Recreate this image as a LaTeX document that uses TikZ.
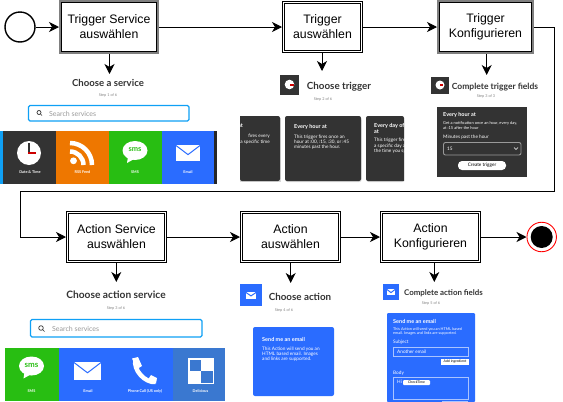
\documentclass[tikz,border=0pt]{standalone}
\usepackage{fontspec}
\setmainfont{Liberation Sans}
\newfontfamily\webfont{Lato}
\usetikzlibrary{arrows.meta}
\definecolor{webdark}{HTML}{333333}
\definecolor{weborange}{HTML}{EE7700}
\definecolor{webgreen}{HTML}{28BE12}
\definecolor{webblue}{HTML}{2A6CFF}
\definecolor{webcyan}{HTML}{0FA0F5}
\definecolor{webdeli}{HTML}{3A78D0}
% mail glyph: left, top, right, bottom, fold colour
\newcommand{\mailicon}[5]{
	\fill[white] (#1,#2) rectangle (#3,#4);
	\draw[#5,line width=1pt] (#1,#2+.5) -- ({(#1+#3)/2},{#2+(#4-#2)*.6}) -- (#3,#2+.5);
}
% speech bubble glyph: centre x, centre y
\newcommand{\smsicon}[2]{
	\fill[white] (#1,#2) ellipse (12.5 and 9.5);
	\fill[white] (#1-7,#2+6) -- (#1-8,#2+12.5) -- (#1,#2+8) -- cycle;
}
\begin{document}
\begin{tikzpicture}[x=1pt,y=-1pt]
	\def \rowoneht{27}
	\def \rowtwoht{237}
	\tikzstyle{s-node}=[rectangle,draw=black,line width=.8pt,double=white,double distance=1.3pt,fill=white,align=center,font=\fontsize{12.3}{15}\selectfont,minimum height=49.5pt,inner sep=0pt,outer sep=1.5pt]
	\tikzstyle{g-node}=[rectangle,draw=black,line width=.9pt,fill=white,align=center,font=\fontsize{12.3}{15}\selectfont,minimum height=49.5pt,inner sep=0pt,outer sep=2.5pt,preaction={draw=black!50,line width=5pt}]
	\tikzstyle{e-line}=[draw=black,line width=1pt,-{Stealth[length=10pt,width=10pt,inset=3pt]}]
	\tikzstyle{head}=[inner sep=0pt,text=webdark,font=\webfont\bfseries\fontsize{9.8}{11}\selectfont]
	\tikzstyle{stepnote}=[inner sep=0pt,text=black!50,font=\webfont\fontsize{3.8}{4}\selectfont]
	\tikzstyle{searchbox}=[draw=webcyan,line width=1.3pt,rounded corners=1.5pt,fill=white]
	\tikzstyle{searchnote}=[inner sep=0pt,anchor=west,text=black!40,font=\webfont\fontsize{7}{8}\selectfont]
	\tikzstyle{tilenote}=[inner sep=0pt,text=white,font=\webfont\bfseries\fontsize{3.8}{4}\selectfont]
	\tikzstyle{cardhead}=[inner sep=0pt,anchor=west,align=left,text=white,font=\webfont\bfseries\fontsize{5.5}{6}\selectfont]
	\tikzstyle{cardnote}=[inner sep=0pt,anchor=north west,align=left,text=white,font=\webfont\fontsize{4.7}{5.4}\selectfont]
	\tikzstyle{fieldbox}=[draw=white!60!webblue,line width=.7pt]
	\useasboundingbox (0,0) rectangle (563,402);
	% flow row one
	\node[circle,draw=black,line width=1.4pt,minimum size=30pt,inner sep=0pt] (start) at (20,\rowoneht) {};
	\node[g-node,minimum width=95pt] (tservice) at (109,\rowoneht) {Trigger Service\\auswählen};
	\node[s-node,minimum width=78pt] (tchoose) at (322.5,\rowoneht) {Trigger\\auswählen};
	\node[g-node,minimum width=92pt] (tconfig) at (485.5,\rowoneht) {Trigger\\Konfigurieren};
	% flow row two
	\node[s-node,minimum width=98pt] (aservice) at (116.5,\rowtwoht) {Action Service\\auswählen};
	\node[s-node,minimum width=98pt] (achoose) at (290.5,\rowtwoht) {Action\\auswählen};
	\node[s-node,minimum width=98pt] (aconfig) at (430.5,\rowtwoht) {Action\\Konfigurieren};
	\node[circle,draw=red,fill=white,line width=.9pt,minimum size=29.5pt,inner sep=0pt] (finish) at (541.7,\rowtwoht) {};
	\fill[black] (finish) circle (11);
	% free ends
	\coordinate (bend1) at (554.5,191);
	\coordinate (bend2) at (20.5,191);
	\coordinate (down1) at (109.5,74);
	\coordinate (down2) at (322,71);
	\coordinate (down3) at (486.7,75);
	\coordinate (down4) at (116.3,282);
	\coordinate (down5) at (290.7,283);
	\coordinate (down6) at (434.3,282);
	\path[e-line] (start) -- (tservice);
	\path[e-line] (tservice) -- (tchoose);
	\path[e-line] (tchoose) -- (tconfig);
	\path[e-line] (tconfig.east) -| (bend1) -- (bend2) |- (aservice.west);
	\path[e-line] (aservice) -- (achoose);
	\path[e-line] (achoose) -- (aconfig);
	\path[e-line] (aconfig) -- (finish);
	\path[e-line] (tservice.south -| down1) -- (down1);
	\path[e-line] (tchoose.south -| down2) -- (down2);
	\path[e-line] (tconfig.south -| down3) -- (down3);
	\path[e-line] (aservice.south -| down4) -- (down4);
	\path[e-line] (achoose.south -| down5) -- (down5);
	\path[e-line] (aconfig.south -| down6) -- (down6);
	% screenshot: choose a service
	\node[head,font=\webfont\bfseries\fontsize{9.6}{11}\selectfont] (h1) at (108,82.5) {Choose a service};
	\node[stepnote] (s1) at (108,95) {Step 1 of 6};
	\draw[searchbox] (28.5,105.5) rectangle (189,121);
	\draw[black!80,line width=.7pt] (39,112.5) circle (2) (40.5,114) -- (42,115.5);
	\node[searchnote] (q1) at (49,113.5) {Search services};
	\fill[webcyan] (0,131) rectangle (3,184);
	\fill[webdark] (3,131) rectangle (56,184);
	\fill[weborange] (56,131) rectangle (109,184);
	\fill[webgreen] (109,131) rectangle (161.5,184);
	\fill[webblue] (161.5,131) rectangle (214,184);
	\fill[black!85] (214,131) rectangle (217,184);
	\fill[white] (29,153) circle (12);
	\fill[webdark] (28.3,143) rectangle (29.5,152);
	\fill[red!80!black] (28,151.5) rectangle (36,154);
	\node[tilenote] (t1) at (30,172) {Date \& Time};
	\fill[white] (73.5,160.8) circle (3.4);
	\draw[white,line width=4.5pt] (70,151.5) arc (-90:0:13.5);
	\draw[white,line width=4.5pt] (70,143) arc (-90:0:22);
	\node[tilenote] (t2) at (82.5,172) {RSS Feed};
	\smsicon{135}{150.5}
	\node[inner sep=0pt,text=webgreen,font=\webfont\bfseries\fontsize{7.5}{8}\selectfont] (i3) at (135,150) {sms};
	\node[tilenote] (t3) at (135,172) {SMS};
	\mailicon{176}{145}{200}{161}{webblue}
	\node[tilenote] (t4) at (188,172) {Email};
	% screenshot: choose trigger
	\fill[webdark] (280,75) rectangle (299,95);
	\fill[white] (289.5,84.5) circle (4.8);
	\fill[red!80!black] (289.5,84) rectangle (293.5,85.5);
	\node[head] (h2) at (339,87) {Choose trigger};
	\node[stepnote] (s2) at (323,99) {Step 2 of 6};
	\fill[black!15] (240,118) rectangle (280.5,182);
	\fill[black!15,rounded corners=2pt] (285.5,118) rectangle (361.5,182);
	\fill[black!15,rounded corners=2pt] (366.5,118) -- (404,118) -- (404,182) -- (366.5,182) -- cycle;
	\fill[webdark,rounded corners=2pt] (240,116) -- (280,116) -- (280,181) -- (240,181) [sharp corners] -- cycle;
	\fill[webdark,rounded corners=2pt] (285,116) rectangle (361,181);
	\fill[webdark,rounded corners=2pt] (366,116) -- (404,116) [sharp corners] -- (404,181) [rounded corners=2pt] -- (366,181) -- cycle;
	\begin{scope}
		\clip (240,116) rectangle (280,181);
		\node[cardhead,anchor=east] (c1a) at (243,126) {at};
		\node[cardnote,anchor=north east,align=right] (c1b) at (270,134) {fires every\\a specific time};
	\end{scope}
	\node[cardhead] (c2a) at (294,127) {Every hour at};
	\node[cardnote] (c2b) at (294,134.5) {This trigger fires once an\\hour at :00, :15, :30, or :45\\minutes past the hour.};
	\begin{scope}
		\clip (366,116) rectangle (404,181);
		\node[cardhead] (c3a) at (374,128) {Every day of\\at};
		\node[cardnote] (c3b) at (374,138) {This trigger fires\\a specific day and\\the time you specify};
	\end{scope}
	% screenshot: complete trigger fields
	\fill[webdark] (431,77) rectangle (449,94);
	\fill[white] (440,85) circle (4.5);
	\fill[red!80!black] (439.5,84) rectangle (443,85.5);
	\node[head,font=\webfont\bfseries\fontsize{8.5}{10}\selectfont] (h3) at (495,87) {Complete trigger fields};
	\node[stepnote] (s3) at (486,96) {Step 3 of 3};
	\fill[webdark] (437,107) rectangle (527,177);
	\node[cardhead] (c4a) at (443,115) {Every hour at};
	\node[cardnote,font=\webfont\fontsize{4}{4.6}\selectfont] (c4b) at (443,121.5) {Get a notification once an hour, every day,\\at :15 after the hour};
	\node[cardnote] (c4c) at (443,135) {Minutes past the hour};
	\draw[black!40,line width=.9pt,rounded corners=2pt] (443.5,142.5) rectangle (521,155);
	\node[cardnote] (c4d) at (447,146.5) {15};
	\draw[white,line width=.6pt] (514,147.5) -- (516,149.5) -- (518,147.5);
	\fill[white,rounded corners=4pt] (458,161) rectangle (506,170);
	\node[cardnote,text=black,anchor=center] (c4e) at (482,165.5) {Create trigger};
	% screenshot: choose action service
	\node[head,font=\webfont\bfseries\fontsize{10.2}{11}\selectfont] (h4) at (116,295) {Choose action service};
	\node[stepnote] (s4) at (116,308) {Step 3 of 6};
	\draw[searchbox] (30.5,319.5) rectangle (202,337);
	\draw[black!80,line width=.7pt] (41,328) circle (2.3) (42.7,329.7) -- (44.5,331.5);
	\node[searchnote] (q2) at (52,328.5) {Search services};
	\fill[webgreen] (5,348) rectangle (59,401);
	\fill[webblue] (59,348) rectangle (173,401);
	\fill[webdeli] (173,348) rectangle (225,401);
	\smsicon{31.5}{366}
	\node[inner sep=0pt,text=webgreen,font=\webfont\bfseries\fontsize{8}{8}\selectfont] (i5) at (31.5,365.5) {sms};
	\node[tilenote] (t5) at (31.5,391.5) {SMS};
	\mailicon{74}{362}{101}{380}{webblue}
	\node[tilenote] (t6) at (88,391.5) {Email};
	\draw[white,line width=4.5pt] (135.5,359.5) .. controls (133,370) and (145,383) .. (155.5,382);
	\fill[white] (132,358.5) -- (138,357) -- (142,366) -- (137,369) -- cycle;
	\fill[white] (147,381) -- (151,375) -- (157,378) -- (156,383.5) -- cycle;
	\node[tilenote] (t7) at (145,391.5) {Phone Call (US only)};
	\fill[white] (188,358) rectangle (214,384);
	\fill[webdeli] (189.5,359.5) rectangle (201,371);
	\fill[webdeli] (201,371) rectangle (212.5,382.5);
	\node[tilenote] (t8) at (200.5,391.5) {Delicious};
	% screenshot: choose action
	\fill[webblue] (240,284) rectangle (262,306);
	\mailicon{246}{292}{256}{298.5}{webblue}
	\node[head] (h5) at (300,297) {Choose action};
	\node[stepnote] (s5) at (284,310) {Step 4 of 6};
	\fill[webblue,rounded corners=2pt] (253,327) rectangle (334,396);
	\node[cardhead] (c5a) at (262,339) {Send me an email};
	\node[cardnote] (c5b) at (262,346.5) {This Action will send you an\\HTML based email. Images\\and links are supported.};
	% screenshot: complete action fields
	\fill[webblue] (383,284) rectangle (399,300);
	\mailicon{387}{289}{395}{295}{webblue}
	\node[head,font=\webfont\bfseries\fontsize{7.9}{9}\selectfont] (h6) at (443.5,293) {Complete action fields};
	\node[stepnote] (s6) at (431,303.5) {Step 5 of 6};
	\fill[webblue,rounded corners=1pt] (387,313) -- (475,313) -- (475,402) -- (387,402) -- cycle;
	\node[cardhead] (c6a) at (393,321) {Send me an email};
	\node[cardnote,font=\webfont\fontsize{3.8}{4.2}\selectfont] (c6b) at (393,327.5) {This Action will send you an HTML based\\email. Images and links are supported.};
	\node[cardnote] (c6c) at (393,340) {Subject};
	\draw[fieldbox] (393.5,347) rectangle (468.5,356.5);
	\node[cardnote] (c6d) at (397,349.5) {Another email};
	\fill[white] (441,359) rectangle (469,365);
	\node[cardnote,text=black,anchor=center,font=\webfont\fontsize{3.5}{4}\selectfont] (c6e) at (455,362) {Add ingredient};
	\node[cardnote] (c6f) at (393,371) {Body};
	\draw[fieldbox] (393.5,377.5) rectangle (468.5,399);
	\node[cardnote] (c6g) at (397,380) {Hi};
	\fill[white,rounded corners=1pt] (403,380) rectangle (430,385);
	\node[cardnote,text=black,anchor=center,font=\webfont\fontsize{3.5}{4}\selectfont] (c6h) at (416.5,382.5) {CheckTime};
	\fill[white!60!webblue] (442,400.5) rectangle (468,402);
\end{tikzpicture}
\end{document}
